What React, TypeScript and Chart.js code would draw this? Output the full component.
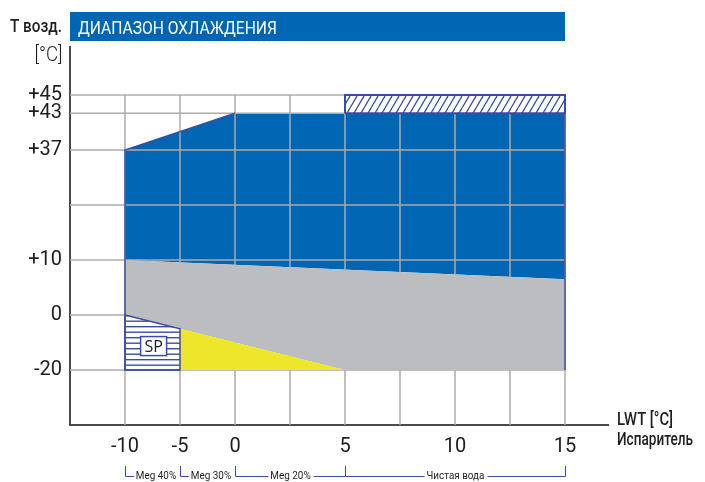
import React, { useEffect, useRef } from 'react';
import { Chart, registerables } from 'chart.js';

Chart.register(...registerables);

// ---------- data ----------
const X_TICKS = [-10, -5, 0, 5, 10, 15];
const X_TICK_LABELS = ['-10', '-5', '0', '5', '10', '15'];
const X_GRID = [-10, -5, 0, 2.5, 5, 7.5, 10, 12.5, 15];

const Y_TICKS = [45, 43, 37, 10, 0, -20];
const Y_TICK_LABELS = ['+45', '+43', '+37', '+10', '0', '-20'];
const Y_GRID = [-20, 0, 10, 23.5, 37, 43, 45];

// broken axes: value -> position along the drawn axis
const X_KNOTS = [-15, -10, 0, 15];
const X_POS = [0, 1, 3, 9];
const Y_KNOTS = [-40, -20, 0, 10, 37, 43, 45];
const Y_POS = [0, 1, 2, 3, 5, 5.67, 6];

// regions of the envelope (LWT, T air)
const BLUE_X = [-10, 0, 15, 15, -10];
const BLUE_Y = [37, 43, 43, 6.5, 10];
const GRAY_X = [-10, 15, 15, 5, -5, -10];
const GRAY_Y = [10, 6.5, -20, -20, -5, 0];
const YELLOW_X = [-5, 5, -5];
const YELLOW_Y = [-5, -20, -20];
const SP_X = [-10, -5, -5, -10, -10];
const SP_Y = [0, -5, -20, -20, 0];
const TOP_X = [5, 15, 15, 5, 5];
const TOP_Y = [43, 43, 45, 45, 43];
const EDGE_X = [0, -10, -10, -5, NaN, 15, 15];
const EDGE_Y = [43, 37, -20, -20, NaN, 43, -20];

const SP_LABEL = 'SP';
const SP_LABEL_X = -7.4;
const SP_LABEL_Y = -11.3;

const BRACKET_FROM = [-10, -5, 0, 5];
const BRACKET_TO = [-5, 0, 5, 15];
const BRACKET_LABELS = ['Meg 40%', 'Meg 30%', 'Meg 20%', 'Чистая вода'];

const TITLE = 'ДИАПАЗОН ОХЛАЖДЕНИЯ';
const Y_TITLE_1 = 'T возд.';
const Y_TITLE_2 = '[°C]';
const X_TITLE_1 = 'LWT [°C]';
const X_TITLE_2 = 'Испаритель';

// ---------- styles ----------
const BLUE = '#0066B3';
const GRAY = '#BCBDC0';
const YELLOW = '#EDE62B';
const HATCH = '#3B4DA3';
const GRID = '#ABABAB';
const AXIS = '#4A4A4A';
const TEXT = '#1E1E1E';

function interp(v: number, ks: number[], ps: number[]) {
  let i = 0;
  while (i < ks.length - 2 && v > ks[i + 1]) i++;
  const t = (v - ks[i]) / (ks[i + 1] - ks[i]);
  return ps[i] + t * (ps[i + 1] - ps[i]);
}
const toXp = (v: number) => interp(v, X_KNOTS, X_POS);
const toYp = (v: number) => interp(v, Y_KNOTS, Y_POS);
const pts = (xs: number[], ys: number[]) =>
  xs.map((x, i) => (isNaN(x) ? { x: null, y: null } : { x: toXp(x), y: toYp(ys[i]) }));

function makePattern(kind: 'h' | 'd') {
  const c = document.createElement('canvas');
  const g = c.getContext('2d')!;
  if (kind === 'h') {
    c.width = 8; c.height = 11;
    g.strokeStyle = HATCH; g.lineWidth = 1.4;
    for (const y of [2.2, 7.7]) { g.beginPath(); g.moveTo(0, y); g.lineTo(8, y); g.stroke(); }
  } else {
    c.width = 7; c.height = 12;
    g.strokeStyle = HATCH; g.lineWidth = 1.3;
    for (const x0 of [-7, 0, 7]) { g.beginPath(); g.moveTo(x0, 12); g.lineTo(x0 + 7, 0); g.stroke(); }
  }
  return g.createPattern(c, 'repeat');
}

function fitText(ctx: CanvasRenderingContext2D, text: string, x: number, y: number, width: number, font: string, align: CanvasTextAlign, color: string) {
  ctx.save();
  ctx.font = font;
  ctx.fillStyle = color;
  ctx.textBaseline = 'alphabetic';
  ctx.textAlign = align;
  const w = ctx.measureText(text).width;
  ctx.translate(x, y);
  ctx.scale(width / w, 1);
  ctx.fillText(text, 0, 0);
  ctx.restore();
}

function drawGrid(chart: any) {
  const { ctx, scales } = chart;
  const xs = scales.x, ys = scales.y;
  const left = xs.getPixelForValue(0);
  const right = xs.getPixelForValue(toXp(15));
  const bottom = ys.getPixelForValue(0);
  const top = ys.getPixelForValue(toYp(45));
  ctx.save();
  ctx.strokeStyle = GRID;
  ctx.lineWidth = 1.5;
  for (const v of Y_GRID) {
    const p = ys.getPixelForValue(toYp(v));
    ctx.beginPath(); ctx.moveTo(left, p); ctx.lineTo(right, p); ctx.stroke();
  }
  for (const v of X_GRID) {
    const p = xs.getPixelForValue(toXp(v));
    ctx.beginPath(); ctx.moveTo(p, bottom); ctx.lineTo(p, top); ctx.stroke();
  }
  ctx.restore();
}

const envPlugin = {
  id: 'envelope',
  beforeDatasetDraw(chart: any, args: any) {
    const ds = chart.data.datasets[args.index];
    if (!ds.polyFill) return;
    const ctx = chart.ctx as CanvasRenderingContext2D;
    const p = args.meta.data;
    ctx.save();
    ctx.beginPath();
    p.forEach((e: any, i: number) => (i ? ctx.lineTo(e.x, e.y) : ctx.moveTo(e.x, e.y)));
    ctx.closePath();
    for (const f of ds.polyFill) { ctx.fillStyle = f; ctx.fill(); }
    ctx.restore();
  },
  afterDatasetDraw(chart: any, args: any) {
    if (chart.data.datasets[args.index].gridAfter) drawGrid(chart);
  },
  afterDraw(chart: any) {
    const ctx = chart.ctx as CanvasRenderingContext2D;
    const xs = chart.scales.x, ys = chart.scales.y;
    const area = chart.chartArea;
    // title bar
    const barRight = xs.getPixelForValue(toXp(15));
    ctx.save();
    ctx.fillStyle = BLUE;
    ctx.fillRect(area.left, 12, barRight - area.left, 29);
    ctx.restore();
    fitText(ctx, TITLE, area.left + 8, 34, 199, '19px Roboto', 'left', '#FFFFFF');
    // y title
    fitText(ctx, Y_TITLE_1, 62, 32, 52, '500 19px Roboto', 'right', TEXT);
    fitText(ctx, Y_TITLE_2, 62.5, 60.5, 28, '300 20px Roboto', 'right', TEXT);
    // x title
    fitText(ctx, X_TITLE_1, 617, 424.5, 56, '500 18px Roboto', 'left', TEXT);
    fitText(ctx, X_TITLE_2, 617, 445, 76, '500 18px Roboto', 'left', TEXT);
    // SP label box
    const cx = xs.getPixelForValue(toXp(SP_LABEL_X));
    const cy = ys.getPixelForValue(toYp(SP_LABEL_Y));
    ctx.save();
    ctx.fillStyle = '#FFFFFF';
    ctx.fillRect(cx - 13, cy - 9.5, 26, 19);
    ctx.strokeStyle = HATCH;
    ctx.lineWidth = 1.5;
    ctx.strokeRect(cx - 13, cy - 9.5, 26, 19);
    ctx.fillStyle = TEXT;
    ctx.font = '16px "Open Sans"';
    ctx.textAlign = 'center';
    ctx.textBaseline = 'middle';
    ctx.fillText(SP_LABEL, cx, cy + 1);
    ctx.restore();
    // glycol brackets
    const lineY = 476.5;
    ctx.save();
    ctx.strokeStyle = HATCH;
    ctx.lineWidth = 1;
    ctx.font = '11px Roboto';
    BRACKET_FROM.forEach((from, i) => {
      const a = Math.round(xs.getPixelForValue(toXp(from))) + 0.5;
      const b = Math.round(xs.getPixelForValue(toXp(BRACKET_TO[i]))) + 0.5;
      const label = BRACKET_LABELS[i];
      const sx = 0.9;
      const tw = ctx.measureText(label).width * sx;
      const mid = (a + b) / 2 + (i < 2 ? 3 : 0);
      const t0 = mid - tw / 2, t1 = mid + tw / 2;
      ctx.beginPath();
      ctx.moveTo(a, 466); ctx.lineTo(a, lineY); ctx.lineTo(t0 - 2, lineY);
      if (b - (t1 + 3) > 4) { ctx.moveTo(t1 + 3, lineY); ctx.lineTo(b, lineY); }
      if (i === BRACKET_FROM.length - 1) { ctx.lineTo(b, 466); }
      ctx.stroke();
      ctx.save();
      ctx.fillStyle = TEXT;
      ctx.textAlign = 'center';
      ctx.textBaseline = 'alphabetic';
      ctx.translate(mid, 479);
      ctx.scale(sx, 1);
      ctx.fillText(label, 0, 0);
      ctx.restore();
    });
    ctx.restore();
  },
};

export default function App() {
  const ref = useRef<HTMLCanvasElement>(null);
  useEffect(() => {
    const canvas = ref.current!;
    const hatchH = makePattern('h');
    const hatchD = makePattern('d');
    const base = { showLine: false, pointRadius: 0, pointHoverRadius: 0, borderWidth: 0 };
    const chart = new Chart(canvas, {
      type: 'scatter',
      data: {
        datasets: [
          { ...base, label: 'blue', data: pts(BLUE_X, BLUE_Y), order: 10, polyFill: [BLUE], gridAfter: true } as any,
          { ...base, label: 'gray', data: pts(GRAY_X, GRAY_Y), order: 9, polyFill: [GRAY] } as any,
          { ...base, label: 'yellow', data: pts(YELLOW_X, YELLOW_Y), order: 8, polyFill: [YELLOW] } as any,
          { ...base, label: 'sp', data: pts(SP_X, SP_Y), order: 7, polyFill: ['#FFFFFF', hatchH], showLine: true, borderColor: HATCH, borderWidth: 1.5 } as any,
          { ...base, label: 'top', data: pts(TOP_X, TOP_Y), order: 6, polyFill: ['#FFFFFF', hatchD], showLine: true, borderColor: HATCH, borderWidth: 2 } as any,
          { ...base, label: 'edge', data: pts(EDGE_X, EDGE_Y), order: 5, showLine: true, spanGaps: false, borderColor: HATCH, borderWidth: 1.5 } as any,
        ],
      },
      options: {
        responsive: false,
        animation: false,
        devicePixelRatio: 1,
        events: [],
        layout: { padding: { top: 47, right: 97, left: 0, bottom: 0 } },
        plugins: { legend: { display: false }, tooltip: { enabled: false } },
        scales: {
          x: {
            type: 'linear',
            min: 0,
            max: 538 / 55,
            grid: { display: false, drawTicks: false },
            border: { display: true, color: AXIS, width: 2 },
            afterBuildTicks: (s: any) => { s.ticks = X_TICKS.map((v) => ({ value: toXp(v) })); },
            afterFit: (s: any) => { s.height = 57; },
            ticks: {
              autoSkip: false,
              maxRotation: 0,
              padding: 10,
              color: TEXT,
              font: { family: 'Roboto', size: 20 },
              callback: (_v: any, i: number) => X_TICK_LABELS[i],
            },
          },
          y: {
            type: 'linear',
            min: 0,
            max: 378 / 55,
            grid: { display: false, drawTicks: false },
            border: { display: true, color: AXIS, width: 2 },
            afterBuildTicks: (s: any) => { s.ticks = Y_TICKS.map((v) => ({ value: toYp(v) })); },
            afterFit: (s: any) => { s.width = 70; },
            ticks: {
              autoSkip: false,
              padding: 8,
              color: TEXT,
              font: { family: 'Roboto', size: 20 },
              callback: (_v: any, i: number) => Y_TICK_LABELS[i],
            },
          },
        },
      } as any,
      plugins: [envPlugin],
    });
    return () => chart.destroy();
  }, []);
  return (
    <div style={{ position: 'absolute', left: 0, top: 0, width: 705, height: 482, background: '#FFFFFF' }}>
      <canvas ref={ref} width={705} height={482} style={{ display: 'block', width: 705, height: 482 }} />
    </div>
  );
}
